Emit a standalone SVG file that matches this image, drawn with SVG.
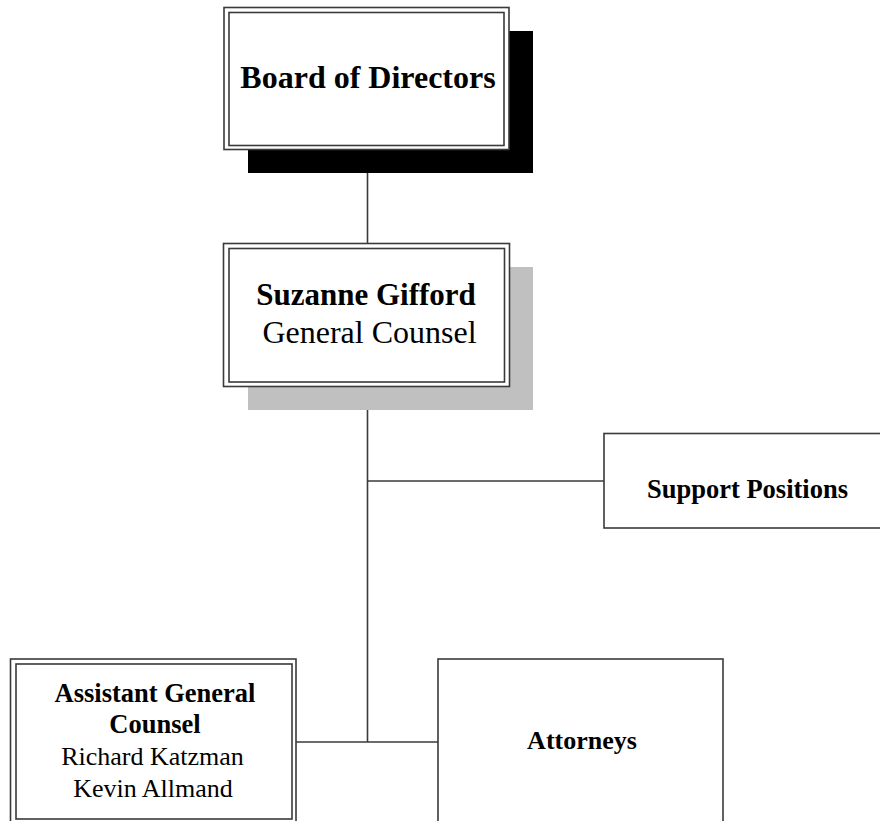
<svg xmlns="http://www.w3.org/2000/svg" width="880" height="821" viewBox="0 0 880 821">
  <style>
    .frame { fill: #ffffff; stroke: #3a3a3a; stroke-width: 1.6; }
    .inner { fill: none; stroke: #3a3a3a; stroke-width: 1.6; }
    .link { fill: none; stroke: #3a3a3a; stroke-width: 1.6; }
    .t { font-family: "Liberation Serif", "Times New Roman", serif; fill: #000; text-anchor: middle; }
    .b { font-weight: bold; }
  </style>
  <rect width="880" height="821" fill="#ffffff"/>

  <!-- connectors -->
  <g id="connectors">
    <line class="link" x1="367.5" y1="150" x2="367.5" y2="243"/>
    <line class="link" x1="367.5" y1="387" x2="367.5" y2="742"/>
    <line class="link" x1="367.5" y1="481" x2="604" y2="481"/>
    <line class="link" x1="296" y1="742" x2="438" y2="742"/>
  </g>

  <!-- Board of Directors -->
  <g id="board">
    <rect x="248" y="31" width="285" height="142" fill="#000000"/>
    <rect class="frame" x="224" y="7.5" width="285" height="142"/>
    <rect class="inner" x="229" y="12.5" width="275" height="133"/>
    <text class="t b" x="368" y="88" font-size="32">Board of Directors</text>
  </g>

  <!-- General Counsel -->
  <g id="general-counsel">
    <rect x="248" y="267" width="285" height="143" fill="#c0c0c0"/>
    <rect class="frame" x="223.5" y="243.5" width="286" height="143"/>
    <rect class="inner" x="229" y="248.5" width="275.5" height="133.5"/>
    <text class="t b" x="366" y="305" font-size="31">Suzanne Gifford</text>
    <text class="t" x="369.5" y="343" font-size="32">General Counsel</text>
  </g>

  <!-- Support Positions -->
  <g id="support">
    <rect class="frame" x="604" y="433.5" width="290" height="94.5"/>
    <text class="t b" x="747.5" y="498" font-size="26.5">Support Positions</text>
  </g>

  <!-- Assistant General Counsel -->
  <g id="assistant">
    <rect class="frame" x="10.5" y="659" width="285.5" height="170"/>
    <rect class="inner" x="16" y="664" width="276" height="155"/>
    <text class="t b" x="155" y="702" font-size="26.5">Assistant General</text>
    <text class="t b" x="155" y="733" font-size="26.5">Counsel</text>
    <text class="t" x="152.5" y="765" font-size="26">Richard Katzman</text>
    <text class="t" x="153" y="797" font-size="26">Kevin Allmand</text>
  </g>

  <!-- Attorneys -->
  <g id="attorneys">
    <rect class="frame" x="438" y="659" width="285" height="170"/>
    <text class="t b" x="582" y="749" font-size="26">Attorneys</text>
  </g>
</svg>
